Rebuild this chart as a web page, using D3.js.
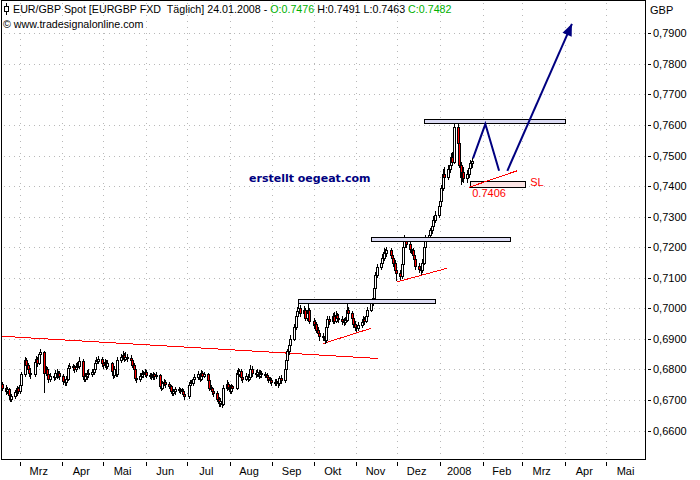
<!DOCTYPE html>
<html>
<head>
<meta charset="utf-8">
<style>
  body { margin: 0; background: #fff; }
  svg { display: block; font-family: "Liberation Sans", Arial, sans-serif; }
</style>
</head>
<body>
<svg id="chart" width="700" height="480"></svg>
<script src="https://cdn.jsdelivr.net/npm/d3@7"></script>
<script>

// daily EUR/GBP candles, one per weekday starting 16.02.2007
var startDay = "2007-02-16";
var firstOpen = 0.6752;

var closes = [0.6740,
  0.6728,0.6735,0.6718,0.6705,0.6712, 0.6725,0.6738,0.6730,0.6750,0.6785,
  0.6830,0.6815,0.6800,0.6790,0.6785, 0.6825,0.6835,0.6822,0.6850,0.6858,
  0.6790,0.6800,0.6785,0.6770,0.6778, 0.6775,0.6790,0.6782,0.6788,0.6778,
  0.6762,0.6758,0.6770,0.6805,0.6810, 0.6808,0.6802,0.6812,0.6810,0.6828,
  0.6780,0.6770,0.6778,0.6790,0.6785, 0.6792,0.6800,0.6822,0.6828,0.6835,
  0.6822,0.6815,0.6825,0.6812,0.6820, 0.6795,0.6782,0.6800,0.6785,0.6830,
  0.6840,0.6848,0.6835,0.6842,0.6838, 0.6830,0.6815,0.6800,0.6772,0.6768,
  0.6780,0.6790,0.6785,0.6792,0.6782, 0.6780,0.6775,0.6785,0.6778,0.6782,
  0.6745,0.6740,0.6755,0.6760,0.6752, 0.6745,0.6730,0.6722,0.6728,0.6735,
  0.6735,0.6732,0.6730,0.6720,0.6712, 0.6750,0.6758,0.6755,0.6768,0.6775,
  0.6785,0.6770,0.6790,0.6780,0.6785, 0.6765,0.6740,0.6738,0.6728,0.6722,
  0.6705,0.6690,0.6698,0.6688,0.6740, 0.6752,0.6742,0.6730,0.6745,0.6738,
  0.6790,0.6785,0.6795,0.6775,0.6770, 0.6778,0.6770,0.6775,0.6800,0.6790,
  0.6785,0.6792,0.6780,0.6790,0.6785, 0.6782,0.6775,0.6768,0.6765,0.6760,
  0.6758,0.6762,0.6755,0.6772,0.6765, 0.6800,0.6830,0.6860,0.6880,0.6900,
  0.6940,0.6975,0.6990,0.7000,0.6985, 0.6995,0.6970,0.6985,0.6995,0.6960,
  0.6945,0.6950,0.6930,0.6920,0.6910, 0.6905,0.6895,0.6940,0.6965,0.6960,
  0.6975,0.6960,0.6978,0.6970,0.6965, 0.6960,0.6955,0.6962,0.6995,0.6985,
  0.6970,0.6950,0.6940,0.6935,0.6945, 0.6955,0.6965,0.6960,0.6975,0.6995,
  0.7020,0.7035,0.7065,0.7110,0.7135, 0.7150,0.7165,0.7185,0.7180,0.7190,
  0.7175,0.7165,0.7150,0.7125,0.7115, 0.7105,0.7145,0.7200,0.7220,0.7210,
  0.7195,0.7190,0.7175,0.7160,0.7140, 0.7130,0.7125,0.7150,0.7200,0.7230,
  0.7240,0.7255,0.7270,0.7290,0.7305, 0.7335,0.7350,0.7395,0.7440,0.7430,
  0.7455,0.7470,0.7495,0.7480,0.7595, 0.7540,0.7470,0.7430,0.7445,0.7425,
  0.7440,0.7460,0.7476,0.7482];

var highs = [0.6758,
  0.6748,0.6744,0.6740,0.6724,0.6720, 0.6733,0.6745,0.6744,0.6758,0.6792,
  0.6842,0.6838,0.6822,0.6810,0.6805, 0.6832,0.6845,0.6842,0.6858,0.6868,
  0.6862,0.6812,0.6808,0.6792,0.6788, 0.6790,0.6798,0.6800,0.6796,0.6794,
  0.6784,0.6770,0.6778,0.6815,0.6820, 0.6818,0.6815,0.6822,0.6825,0.6840,
  0.6835,0.6790,0.6788,0.6798,0.6800, 0.6802,0.6810,0.6830,0.6840,0.6845,
  0.6842,0.6830,0.6835,0.6832,0.6830, 0.6825,0.6802,0.6810,0.6808,0.6840,
  0.6852,0.6862,0.6855,0.6858,0.6850, 0.6846,0.6838,0.6820,0.6805,0.6782,
  0.6788,0.6798,0.6795,0.6800,0.6798, 0.6790,0.6788,0.6792,0.6790,0.6792,
  0.6786,0.6752,0.6762,0.6768,0.6765, 0.6758,0.6750,0.6738,0.6735,0.6742,
  0.6744,0.6740,0.6738,0.6735,0.6726, 0.6756,0.6766,0.6764,0.6776,0.6785,
  0.6795,0.6790,0.6798,0.6796,0.6792, 0.6790,0.6770,0.6748,0.6744,0.6735,
  0.6728,0.6710,0.6706,0.6705,0.6748, 0.6764,0.6758,0.6748,0.6752,0.6750,
  0.6798,0.6806,0.6802,0.6800,0.6784, 0.6788,0.6785,0.6784,0.6815,0.6810,
  0.6798,0.6802,0.6798,0.6798,0.6796, 0.6792,0.6788,0.6782,0.6776,0.6772,
  0.6768,0.6770,0.6768,0.6780,0.6782, 0.6808,0.6838,0.6868,0.6892,0.6912,
  0.6950,0.6985,0.7005,0.7022,0.7010, 0.7008,0.7000,0.6995,0.7022,0.7000,
  0.6968,0.6962,0.6956,0.6938,0.6930, 0.6918,0.6912,0.6948,0.6975,0.6975,
  0.6985,0.6988,0.6990,0.6985,0.6980, 0.6975,0.6968,0.6972,0.7020,0.7005,
  0.6990,0.6975,0.6958,0.6948,0.6955, 0.6965,0.6975,0.6972,0.6985,0.7005,
  0.7030,0.7048,0.7075,0.7120,0.7145, 0.7162,0.7178,0.7198,0.7195,0.7200,
  0.7198,0.7185,0.7172,0.7158,0.7135, 0.7125,0.7155,0.7210,0.7240,0.7232,
  0.7218,0.7205,0.7198,0.7182,0.7165, 0.7148,0.7138,0.7160,0.7210,0.7240,
  0.7250,0.7262,0.7280,0.7302,0.7318, 0.7348,0.7362,0.7405,0.7455,0.7462,
  0.7468,0.7482,0.7508,0.7512,0.7602, 0.7608,0.7548,0.7478,0.7458,0.7462,
  0.7452,0.7470,0.7485,0.7491];

var lows = [0.6732,
  0.6720,0.6722,0.6710,0.6698,0.6696, 0.6706,0.6716,0.6722,0.6724,0.6742,
  0.6778,0.6805,0.6790,0.6780,0.6772, 0.6780,0.6815,0.6812,0.6818,0.6840,
  0.6727,0.6782,0.6775,0.6760,0.6762, 0.6765,0.6768,0.6772,0.6774,0.6768,
  0.6752,0.6748,0.6750,0.6765,0.6798, 0.6798,0.6792,0.6795,0.6800,0.6805,
  0.6772,0.6762,0.6762,0.6770,0.6775, 0.6778,0.6785,0.6795,0.6815,0.6820,
  0.6812,0.6805,0.6808,0.6802,0.6805, 0.6785,0.6772,0.6775,0.6778,0.6780,
  0.6825,0.6835,0.6828,0.6830,0.6828, 0.6820,0.6808,0.6790,0.6765,0.6760,
  0.6762,0.6774,0.6776,0.6778,0.6775, 0.6772,0.6768,0.6770,0.6770,0.6772,
  0.6738,0.6732,0.6735,0.6748,0.6744, 0.6738,0.6722,0.6715,0.6716,0.6720,
  0.6726,0.6724,0.6720,0.6712,0.6703, 0.6708,0.6744,0.6748,0.6750,0.6762,
  0.6770,0.6762,0.6765,0.6772,0.6774, 0.6758,0.6732,0.6730,0.6720,0.6714,
  0.6698,0.6680,0.6682,0.6678,0.6684, 0.6734,0.6735,0.6722,0.6724,0.6730,
  0.6735,0.6776,0.6778,0.6766,0.6760, 0.6764,0.6762,0.6765,0.6768,0.6778,
  0.6776,0.6778,0.6772,0.6774,0.6776, 0.6774,0.6766,0.6760,0.6756,0.6750,
  0.6750,0.6748,0.6742,0.6750,0.6755, 0.6760,0.6795,0.6822,0.6852,0.6872,
  0.6895,0.6932,0.6965,0.6982,0.6975, 0.6978,0.6962,0.6962,0.6980,0.6952,
  0.6935,0.6938,0.6922,0.6908,0.6898, 0.6895,0.6885,0.6890,0.6932,0.6950,
  0.6952,0.6952,0.6955,0.6960,0.6955, 0.6950,0.6945,0.6948,0.6958,0.6975,
  0.6962,0.6940,0.6930,0.6925,0.6928, 0.6938,0.6948,0.6950,0.6955,0.6968,
  0.6990,0.7012,0.7028,0.7058,0.7102, 0.7128,0.7142,0.7158,0.7170,0.7172,
  0.7165,0.7155,0.7140,0.7115,0.7093, 0.7095,0.7098,0.7138,0.7192,0.7200,
  0.7185,0.7180,0.7165,0.7150,0.7128, 0.7120,0.7112,0.7118,0.7145,0.7192,
  0.7225,0.7235,0.7248,0.7262,0.7282, 0.7298,0.7328,0.7342,0.7388,0.7420,
  0.7422,0.7445,0.7462,0.7470,0.7475, 0.7532,0.7462,0.7406,0.7418,0.7415,
  0.7412,0.7430,0.7450,0.7463];

var priceTicks = [0.66,0.67,0.68,0.69,0.70,0.71,0.72,0.73,0.74,0.75,0.76,0.77,0.78,0.79];
var monthTicks = ["2007-03-01","2007-04-01","2007-05-01","2007-06-01","2007-07-01","2007-08-01",
  "2007-09-01","2007-10-01","2007-11-01","2007-12-01","2008-01-01","2008-02-01","2008-03-01",
  "2008-04-01","2008-05-01"];
var monthLabels = ["Mrz","Apr","Mai","Jun","Jul","Aug","Sep","Okt","Nov","Dez","2008","Feb","Mrz","Apr","Mai"];

// drawn annotations: [from, to, upper price, lower price]
var resistanceBoxes = [
  ["2007-09-20","2007-12-28",0.7029,0.7016],
  ["2007-11-12","2008-02-21",0.7232,0.7221],
  ["2007-12-20","2008-04-01",0.7619,0.7606]
];
var stopBox = ["2008-01-23","2008-03-03",0.7417,0.7398];
var stopLevel = 0.7406;
// red trend lines: [from, price, to, price]
var trendLines = [
  ["2007-02-15",0.6909,"2007-11-17",0.6836],
  ["2007-10-08",0.6885,"2007-11-12",0.6935],
  ["2007-12-01",0.7087,"2008-01-06",0.7131],
  ["2008-01-22",0.7396,"2008-02-26",0.7450]
];
var zigzag = [["2008-01-25",0.7491],["2008-02-03",0.7603],["2008-02-13",0.7450]];
var arrowPath = [["2008-02-19",0.7450],["2008-04-06",0.7931]];

var parse = d3.utcParse("%Y-%m-%d");

var days = [];
var d = parse(startDay);
while (days.length < closes.length) {
  if (d.getUTCDay() % 6 !== 0) days.push(d);
  d = d3.utcDay.offset(d, 1);
}
var candles = closes.map(function(c, i) {
  return { date: days[i], open: i ? closes[i-1] : firstOpen, close: c, high: highs[i], low: lows[i] };
});

var svg = d3.select("#chart");

var plotL = 1.5, plotR = 645.5, plotT = 0.5, plotB = 459.5;

var x = d3.scaleUtc()
  .domain([parse("2007-03-01"), parse("2008-01-01")])
  .range([19.5, 440]);
var y = d3.scaleLinear()
  .domain([0.66, 0.79])
  .range([430.6, 33.3]);

svg.append("defs").append("clipPath").attr("id", "plotclip")
  .append("rect").attr("x", plotL).attr("y", plotT)
  .attr("width", plotR - plotL).attr("height", plotB - plotT);

// dotted grid
var grid = svg.append("g").attr("stroke", "#b8b8b8").attr("shape-rendering", "crispEdges");
grid.selectAll("line.h").data(priceTicks).enter().append("line")
  .attr("x1", plotL + 2).attr("x2", plotR - 1)
  .attr("y1", function(v) { return Math.round(y(v)) + 0.5; })
  .attr("y2", function(v) { return Math.round(y(v)) + 0.5; })
  .attr("stroke-dasharray", "1,4");
grid.selectAll("line.v").data(monthTicks).enter().append("line")
  .attr("x1", function(m) { return Math.round(x(parse(m))) + 0.5; })
  .attr("x2", function(m) { return Math.round(x(parse(m))) + 0.5; })
  .attr("y1", plotT + 2).attr("y2", plotB - 1)
  .attr("stroke-dasharray", "1,5");

var plot = svg.append("g").attr("clip-path", "url(#plotclip)");

// red trend lines
plot.append("g").selectAll("line").data(trendLines).enter().append("line")
  .attr("x1", function(t) { return x(parse(t[0])); })
  .attr("y1", function(t) { return y(t[1]); })
  .attr("x2", function(t) { return x(parse(t[2])); })
  .attr("y2", function(t) { return y(t[3]); })
  .attr("stroke", "#ff0000").attr("stroke-width", 1)
  .attr("shape-rendering", "crispEdges");

// candles
var cg = plot.append("g").attr("shape-rendering", "crispEdges");
var cs = cg.selectAll("g").data(candles).enter().append("g");
cs.append("line")
  .attr("x1", function(c) { return Math.round(x(c.date)) + 0.5; })
  .attr("x2", function(c) { return Math.round(x(c.date)) + 0.5; })
  .attr("y1", function(c) { return Math.round(y(c.high)); })
  .attr("y2", function(c) { return Math.round(y(c.low)) + 1; })
  .attr("stroke", "#000");
cs.append("rect")
  .attr("x", function(c) { return Math.round(x(c.date)) - 0.5; })
  .attr("width", 2)
  .attr("y", function(c) { return Math.round(y(Math.max(c.open, c.close))) + 0.5; })
  .attr("height", function(c) {
    return Math.max(1, Math.round(y(Math.min(c.open, c.close))) - Math.round(y(Math.max(c.open, c.close))));
  })
  .attr("fill", function(c) { return c.close < c.open ? "#ff0000" : "#ffffff"; })
  .attr("stroke", "#000");

// resistance boxes
plot.append("g").selectAll("rect").data(resistanceBoxes).enter().append("rect")
  .attr("x", function(b) { return Math.round(x(parse(b[0]))) + 0.5; })
  .attr("y", function(b) { return Math.round(y(b[2])) + 0.5; })
  .attr("width", function(b) { return Math.round(x(parse(b[1]))) - Math.round(x(parse(b[0]))); })
  .attr("height", function(b) { return Math.max(3, Math.round(y(b[3])) - Math.round(y(b[2]))); })
  .attr("fill", "#dcdcf4").attr("stroke", "#000").attr("stroke-width", 1)
  .attr("shape-rendering", "crispEdges");

// stop loss box
plot.append("rect")
  .attr("x", Math.round(x(parse(stopBox[0]))) + 0.5)
  .attr("y", Math.round(y(stopBox[2])) + 0.5)
  .attr("width", Math.round(x(parse(stopBox[1]))) - Math.round(x(parse(stopBox[0]))))
  .attr("height", Math.round(y(stopBox[3])) - Math.round(y(stopBox[2])))
  .attr("fill", "#fbe4e4").attr("stroke", "#000").attr("stroke-width", 1)
  .attr("shape-rendering", "crispEdges");
// redraw the last trend line over the stop box
var tl = trendLines[3];
plot.append("line")
  .attr("x1", x(parse(tl[0]))).attr("y1", y(tl[1]))
  .attr("x2", x(parse(tl[2]))).attr("y2", y(tl[3]))
  .attr("stroke", "#ff0000").attr("shape-rendering", "crispEdges");

plot.append("text")
  .attr("x", x(parse(stopBox[0])) + 2)
  .attr("y", y(stopLevel) + 13)
  .attr("fill", "#ff0000").attr("font-size", "11px")
  .text(d3.format(".4f")(stopLevel));
plot.append("text")
  .attr("x", x(parse(stopBox[1])) + 5)
  .attr("y", y(stopBox[2]) + 5)
  .attr("fill", "#ff0000").attr("font-size", "11px")
  .text("SL");

// expected path
var pl = d3.line()
  .x(function(p) { return x(parse(p[0])); })
  .y(function(p) { return y(p[1]); });
plot.append("path").attr("d", pl(zigzag))
  .attr("fill", "none").attr("stroke", "#000080").attr("stroke-width", 2);
plot.append("path").attr("d", pl(arrowPath))
  .attr("fill", "none").attr("stroke", "#000080").attr("stroke-width", 2);
var a0 = [x(parse(arrowPath[0][0])), y(arrowPath[0][1])];
var a1 = [x(parse(arrowPath[1][0])), y(arrowPath[1][1])];
var ang = Math.atan2(a1[1] - a0[1], a1[0] - a0[0]);
var hl = 12, hw = 5;
var bx = a1[0] - hl * Math.cos(ang), by = a1[1] - hl * Math.sin(ang);
plot.append("path")
  .attr("d", "M" + a1[0] + "," + a1[1] +
    "L" + (bx + hw * Math.sin(ang)) + "," + (by - hw * Math.cos(ang)) +
    "L" + (bx - hw * Math.sin(ang)) + "," + (by + hw * Math.cos(ang)) + "Z")
  .attr("fill", "#000080");

// watermark
svg.append("text")
  .attr("x", 249).attr("y", 182)
  .attr("fill", "#000080")
  .attr("font-family", "'DejaVu Sans', Verdana, sans-serif")
  .attr("font-weight", "bold").attr("font-size", "11px")
  .text("erstellt oegeat.com");

// header
var last = candles[candles.length - 1];
var f4 = d3.format(".4f");
var icon = svg.append("g").attr("shape-rendering", "crispEdges");
icon.append("line").attr("x1", 6.5).attr("x2", 6.5).attr("y1", 3).attr("y2", 15).attr("stroke", "#000");
icon.append("rect").attr("x", 4.5).attr("y", 6.5).attr("width", 4).attr("height", 5)
  .attr("fill", "#fff").attr("stroke", "#000");
var head = svg.append("text").attr("x", 13).attr("y", 13)
  .attr("font-size", "10.7px").attr("xml:space", "preserve").style("white-space", "pre");
head.append("tspan").text("EUR/GBP Spot [EURGBP FXD  T\u00e4glich] 24.01.2008 - ");
head.append("tspan").attr("fill", "#00b000").text("O:" + f4(last.open));
head.append("tspan").text(" H:" + f4(last.high) + " L:" + f4(last.low) + " ");
head.append("tspan").attr("fill", "#00b000").text("C:" + f4(last.close));
svg.append("text").attr("x", 3).attr("y", 28).attr("font-size", "10.7px")
  .text("\u00a9 www.tradesignalonline.com");

// frame
svg.append("rect").attr("x", plotL).attr("y", plotT)
  .attr("width", plotR - plotL).attr("height", plotB - plotT)
  .attr("fill", "none").attr("stroke", "#000").attr("shape-rendering", "crispEdges");

// price axis
var ya = svg.append("g");
ya.selectAll("line").data(priceTicks).enter().append("line")
  .attr("x1", 648).attr("x2", 651)
  .attr("y1", function(v) { return Math.round(y(v)) + 0.5; })
  .attr("y2", function(v) { return Math.round(y(v)) + 0.5; })
  .attr("stroke", "#000").attr("shape-rendering", "crispEdges");
ya.selectAll("text").data(priceTicks).enter().append("text")
  .attr("x", 653)
  .attr("y", function(v) { return y(v) + 4; })
  .attr("font-size", "11px")
  .text(function(v) { return f4(v).replace(".", ","); });
svg.append("text").attr("x", 650).attr("y", 14).attr("font-size", "11px").text("GBP");

// month axis
var xa = svg.append("g");
xa.selectAll("line").data(monthTicks).enter().append("line")
  .attr("x1", function(m) { return Math.round(x(parse(m))) + 0.5; })
  .attr("x2", function(m) { return Math.round(x(parse(m))) + 0.5; })
  .attr("y1", 462).attr("y2", 466)
  .attr("stroke", "#000").attr("shape-rendering", "crispEdges");
xa.selectAll("text").data(monthTicks).enter().append("text")
  .attr("x", function(m) { return x(d3.utcDay.offset(parse(m), 14)); })
  .attr("y", 475)
  .attr("text-anchor", "middle").attr("font-size", "11px")
  .text(function(m, i) { return monthLabels[i]; });

</script>
</body>
</html>
